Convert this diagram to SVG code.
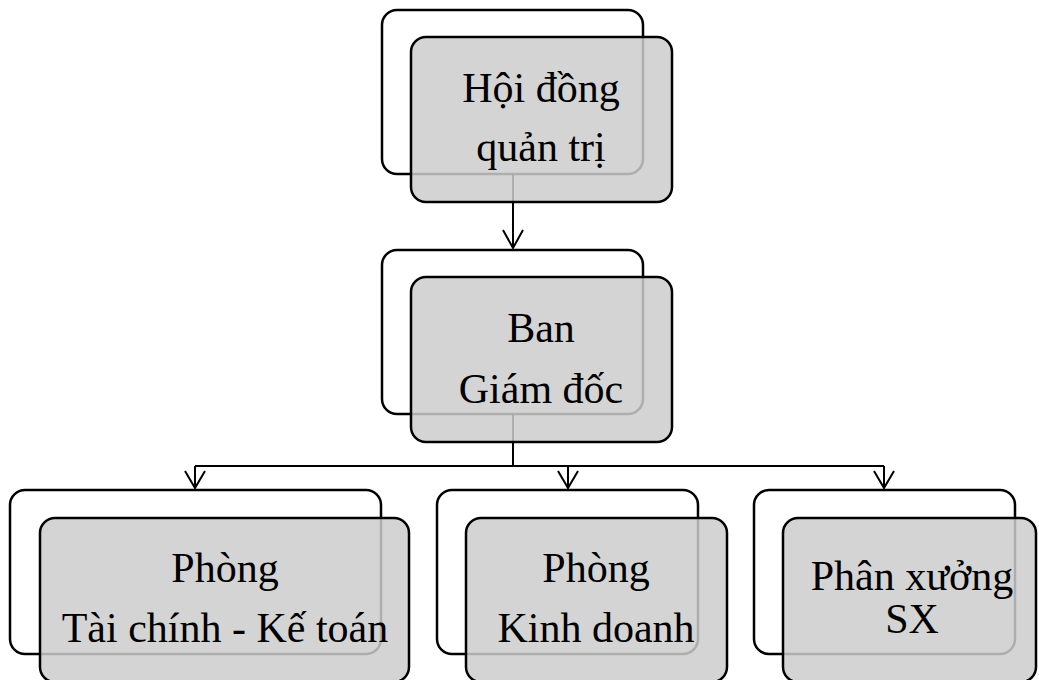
<svg xmlns="http://www.w3.org/2000/svg" width="1039" height="680" viewBox="0 0 1039 680">
<defs>
<style>
.back{fill:#ffffff;stroke:#000;stroke-width:2.5}
.front{fill:#cccccc;fill-opacity:0.85;stroke:#000;stroke-width:2.5}
.conn{fill:none;stroke:#000;stroke-width:2}
.head{fill:none;stroke:#000;stroke-width:2;stroke-linejoin:miter}
</style>
</defs>
<rect width="1039" height="680" fill="#fff"/>
<g id="connectors">
<path class="conn" d="M513,174 L513,248"/>
<path class="head" d="M503,230 L513,248 L523,230"/>
<path class="conn" d="M513,414 L513,466"/>
<path class="conn" d="M195,466 L884,466"/>
<path class="conn" d="M195,466 L195,488"/>
<path class="head" d="M185,471 L195,488 L205,471"/>
<path class="conn" d="M568,466 L568,488"/>
<path class="head" d="M558,471 L568,488 L578,471"/>
<path class="conn" d="M884,466 L884,488"/>
<path class="head" d="M874,471 L884,488 L894,471"/>
</g>
<g font-family="Liberation Serif, Times New Roman, serif" font-size="42" text-anchor="middle" fill="#000">
<g id="node-hdqt">
<rect class="back" x="382" y="10" width="261" height="164" rx="15"/>
<rect class="front" x="411" y="37" width="261" height="165" rx="15"/>
<text x="541" y="102">Hội đồng</text>
<text x="541" y="161">quản trị</text>
</g>
<g id="node-bgd">
<rect class="back" x="382" y="250" width="261" height="164" rx="15"/>
<rect class="front" x="411" y="277" width="261" height="165" rx="15"/>
<text x="541" y="342">Ban</text>
<text x="541" y="403">Giám đốc</text>
</g>
<g id="node-tckt">
<rect class="back" x="10" y="490" width="371" height="164" rx="15"/>
<rect class="front" x="40" y="518" width="369" height="164" rx="15"/>
<text x="225" y="582">Phòng</text>
<text x="225" y="642">Tài chính - Kế toán</text>
</g>
<g id="node-kd">
<rect class="back" x="437" y="490" width="261" height="164" rx="15"/>
<rect class="front" x="466" y="518" width="261" height="164" rx="15"/>
<text x="596" y="582">Phòng</text>
<text x="596" y="642">Kinh doanh</text>
</g>
<g id="node-px">
<rect class="back" x="754" y="490" width="261" height="164" rx="15"/>
<rect class="front" x="783" y="518" width="253" height="164" rx="15"/>
<text x="912" y="590">Phân xưởng</text>
<text x="912" y="633">SX</text>
</g>
</g>
</svg>
